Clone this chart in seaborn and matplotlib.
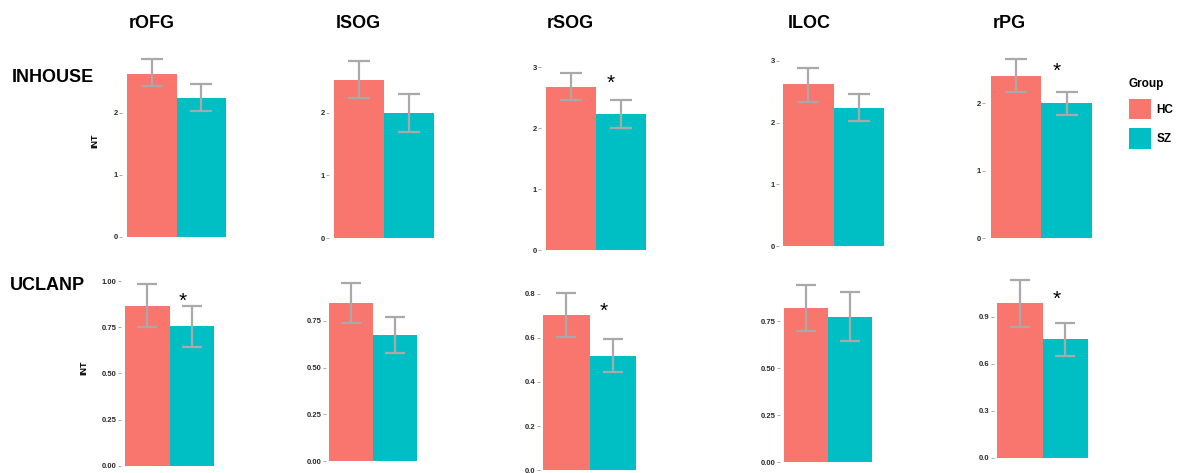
import matplotlib
matplotlib.use("Agg")
import matplotlib.pyplot as plt
import seaborn as sns
import numpy as np
import pandas as pd
from matplotlib.patches import Patch

# ---------------- data ----------------
regions = ["rOFG", "lSOG", "rSOG", "lLOC", "rPG"]
datasets = ["INHOUSE", "UCLANP"]
groups = ["HC", "SZ"]

inhouse_hc = [2.63, 2.52, 2.67, 2.62, 2.41]
inhouse_hc_lo = [2.43, 2.23, 2.46, 2.34, 2.17]
inhouse_hc_hi = [2.86, 2.82, 2.90, 2.89, 2.65]
inhouse_sz = [2.24, 1.99, 2.23, 2.23, 2.00]
inhouse_sz_lo = [2.02, 1.69, 2.00, 2.02, 1.82]
inhouse_sz_hi = [2.47, 2.30, 2.46, 2.46, 2.17]
inhouse_sig = [False, False, True, False, True]

uclanp_hc = [0.866, 0.845, 0.703, 0.817, 0.985]
uclanp_hc_lo = [0.753, 0.741, 0.605, 0.699, 0.836]
uclanp_hc_hi = [0.982, 0.952, 0.804, 0.941, 1.134]
uclanp_sz = [0.756, 0.675, 0.520, 0.773, 0.756]
uclanp_sz_lo = [0.644, 0.577, 0.445, 0.645, 0.651]
uclanp_sz_hi = [0.866, 0.773, 0.597, 0.902, 0.862]
uclanp_sig = [True, False, True, False, True]

inhouse_ticks = [[0, 1, 2], [0, 1, 2], [0, 1, 2, 3], [0, 1, 2, 3], [0, 1, 2]]
uclanp_ticks = [[0, 0.25, 0.5, 0.75, 1.0], [0, 0.25, 0.5, 0.75],
                [0, 0.2, 0.4, 0.6, 0.8], [0, 0.25, 0.5, 0.75], [0, 0.3, 0.6, 0.9]]
uclanp_fmt = ["{:.2f}", "{:.2f}", "{:.1f}", "{:.2f}", "{:.1f}"]

colors = {"HC": "#F8766D", "SZ": "#00BFC4"}

# ---------------- layout (pixels) ----------------
W, H = 1177, 473
# (axis left, bar left, bar right, zero y, px per unit, top y)
layout = [
    [(122, 127, 226, 236.7, 62.0, 45), (329, 334, 434, 238.3, 62.8, 45),
     (541, 545.7, 645.7, 250, 60.9, 45), (779, 783, 884, 246, 61.7, 45),
     (985, 991, 1091.7, 238.3, 67.5, 45)],
    [(121, 125, 214, 465.7, 184.7, 270), (326, 329.3, 417.3, 461, 186.7, 270),
     (540, 543.3, 635.7, 470, 220.0, 270), (780, 783.7, 871.7, 462.3, 188.4, 270),
     (993.5, 997, 1088.3, 457.7, 156.7, 270)],
]
title_x = [152, 358, 570, 809, 1009]

plt.rcParams['font.family'] = ['Liberation Sans', 'DejaVu Sans']
fig = plt.figure(figsize=(W / 100, H / 100), dpi=100)
fig.patch.set_facecolor("white")

rows = [
    (inhouse_hc, inhouse_hc_lo, inhouse_hc_hi, inhouse_sz, inhouse_sz_lo, inhouse_sz_hi, inhouse_sig),
    (uclanp_hc, uclanp_hc_lo, uclanp_hc_hi, uclanp_sz, uclanp_sz_lo, uclanp_sz_hi, uclanp_sig),
]

for r, (hc, hcl, hch, sz, szl, szh, sig) in enumerate(rows):
    for c in range(5):
        L, b0, b1, y0, ppu, T = layout[r][c]
        R = b1 + 6
        ax = fig.add_axes([L / W, (H - y0) / H, (R - L) / W, (y0 - T) / H])
        df = pd.DataFrame({"Group": groups, "INT": [hc[c], sz[c]]})
        sns.barplot(data=df, x="Group", y="INT", hue="Group", palette=colors,
                    width=1.0, errorbar=None, legend=False, ax=ax, saturation=1,
                    edgecolor="none", linewidth=0)
        means = np.array([hc[c], sz[c]])
        lo = np.array([hcl[c], szl[c]])
        hi = np.array([hch[c], szh[c]])
        ax.errorbar([0, 1], means, yerr=[means - lo, hi - means], fmt="none",
                    ecolor="#A9A9A9", elinewidth=1.6, capsize=8 if r == 0 else 7,
                    capthick=1.6, zorder=5)
        ppx = (b1 - b0) / 2
        ax.set_xlim(-0.5 - (b0 - L) / ppx, 1.5 + (R - b1) / ppx)
        ax.set_ylim(0, (y0 - T) / ppu)
        ticks = inhouse_ticks[c] if r == 0 else uclanp_ticks[c]
        ax.set_yticks(ticks)
        if r == 0:
            labels = ["{:d}".format(int(t)) for t in ticks]
        else:
            labels = [uclanp_fmt[c].format(t) for t in ticks]
        ax.set_yticklabels(labels, fontsize=5.5, fontweight="bold", color="#2b2b2b")
        ax.tick_params(axis="y", length=2, width=0.5, color="#888888", pad=1)
        ax.set_xticks([])
        ax.set_xlabel("")
        for s in ax.spines.values():
            s.set_visible(False)
        ax.set_facecolor("none")
        if c == 0:
            ax.set_ylabel("INT", fontsize=6.5, fontweight="bold", labelpad=10)
        else:
            ax.set_ylabel("")
        if sig[c]:
            ax.annotate("*", xy=(0.8, hc[c]), xytext=(0, 3), textcoords="offset points",
                        ha="center", va="center", fontsize=15, color="black")

# column titles
for c in range(5):
    fig.text(title_x[c] / W, 1 - 23 / H, regions[c], fontsize=13, fontweight="bold",
             ha="center", va="center")

# row labels
fig.text(12 / W, 1 - 78 / H, "INHOUSE", fontsize=13, fontweight="bold", va="center", ha="left")
fig.text(10 / W, 1 - 285 / H, "UCLANP", fontsize=13, fontweight="bold", va="center", ha="left")

# legend
handles = [Patch(facecolor=colors[g], edgecolor="none", label=g) for g in groups]
fig.legend(handles=handles, title="Group", loc="upper left",
           bbox_to_anchor=(1124 / W, 1 - 73 / H), frameon=False,
           prop={"size": 8.5, "weight": "bold"},
           title_fontproperties={"size": 8.5, "weight": "bold"},
           handlelength=1.9, handleheight=2.3, labelspacing=0.75,
           handletextpad=0.45, alignment="left", borderaxespad=0)

fig.savefig("out.png", dpi=100, facecolor="white")
